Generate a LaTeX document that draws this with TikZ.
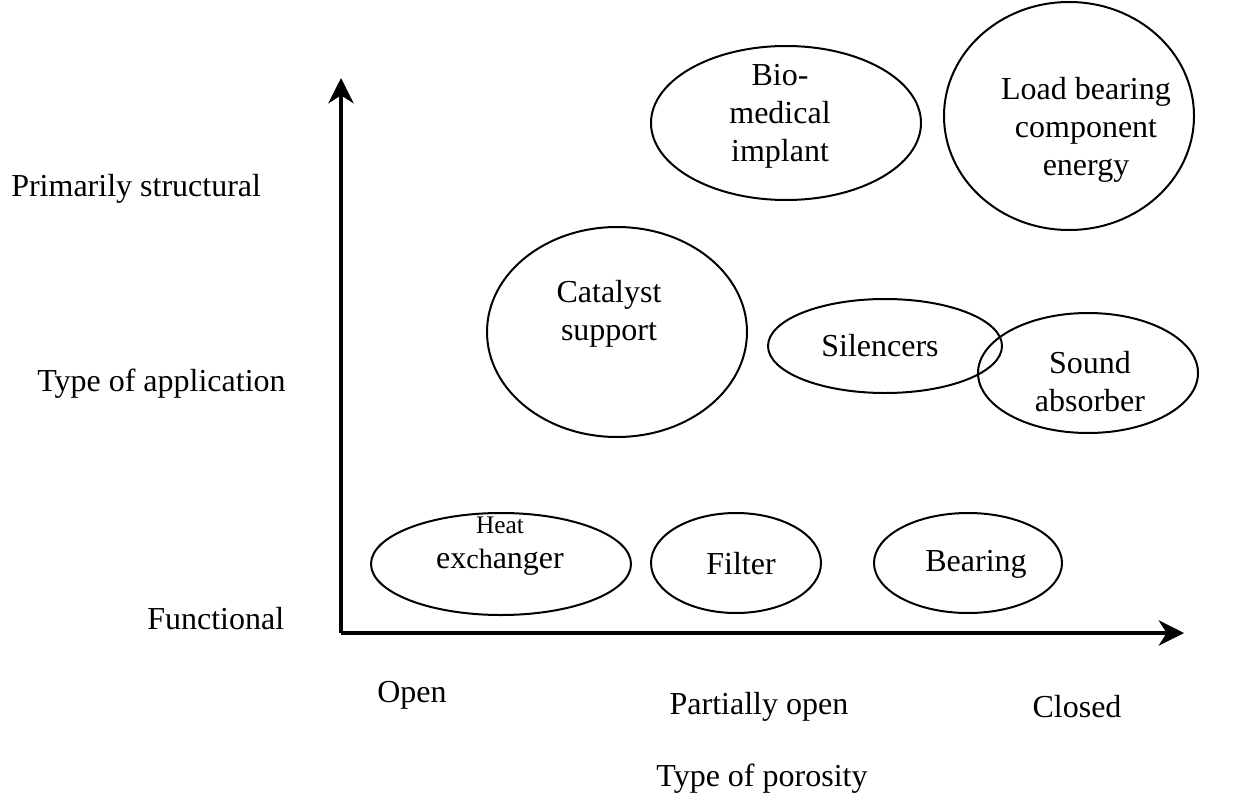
\documentclass[tikz,border=0pt]{standalone}
\usepackage{fontspec}
\setmainfont{Liberation Serif}
\usetikzlibrary{shapes.geometric,arrows.meta}
\begin{document}
\begin{tikzpicture}[x=0.75pt,y=-0.75pt,
  ell/.style={draw,line width=1.5pt},
  lbl/.style={font=\fontsize{24}{28.5}\selectfont,align=center,inner sep=0pt},
  axis/.style={line width=2.8pt,-{Stealth[length=19pt,width=19pt,inset=6pt]}}]
\useasboundingbox (0,0) rectangle (1245,799);
% ellipses
\draw[ell] (786,123) ellipse [x radius=135, y radius=77];
\draw[ell] (1069,116) ellipse [x radius=125, y radius=114];
\draw[ell] (617,332) ellipse [x radius=130, y radius=105];
\draw[ell] (885,346) ellipse [x radius=117, y radius=47];
\draw[ell] (1088,373) ellipse [x radius=110, y radius=60];
\draw[ell] (501,564) ellipse [x radius=130, y radius=51];
\draw[ell] (736,563) ellipse [x radius=85, y radius=50];
\draw[ell] (968,563) ellipse [x radius=94, y radius=50];
% texts in ellipses
\node[lbl] (bio) at (780,116) {Bio-\\medical\\implant};
\node[lbl] (load) at (1086,130) {Load bearing\\component\\energy};
\node[lbl] (cat) at (609,314) {Catalyst\\support};
\node[lbl] (sil) at (880,346) {Silencers};
\node[lbl] (snd) at (1090,382) {Sound\\absorber};
\node[lbl] (heat) at (500,546) {{\fontsize{19}{22}\selectfont Heat}\\[-2.5pt]ex{\fontsize{21}{22}\selectfont ch}anger};
\node[lbl] (fil) at (741,564) {Filter};
\node[lbl] (bea) at (976,564) {Bearing};
% axes
\coordinate (o) at (341,633);
\coordinate (ytip) at (341,78);
\coordinate (xtip) at (1184,633);
\draw[axis] (o) -- (ytip);
\draw[axis] (o) -- (xtip);
% axis labels
\node[lbl,anchor=west] (ps) at (11,189) {Primarily structural};
\node[lbl,anchor=west] (ta) at (37,384) {Type of application};
\node[lbl,anchor=west] (fu) at (147,619) {Functional};
\node[lbl] (op) at (412,695) {Open};
\node[lbl] (po) at (759,707) {Partially open};
\node[lbl] (cl) at (1077,707) {Closed};
\node[lbl] (tp) at (762,779) {Type of porosity};
\end{tikzpicture}
\end{document}
